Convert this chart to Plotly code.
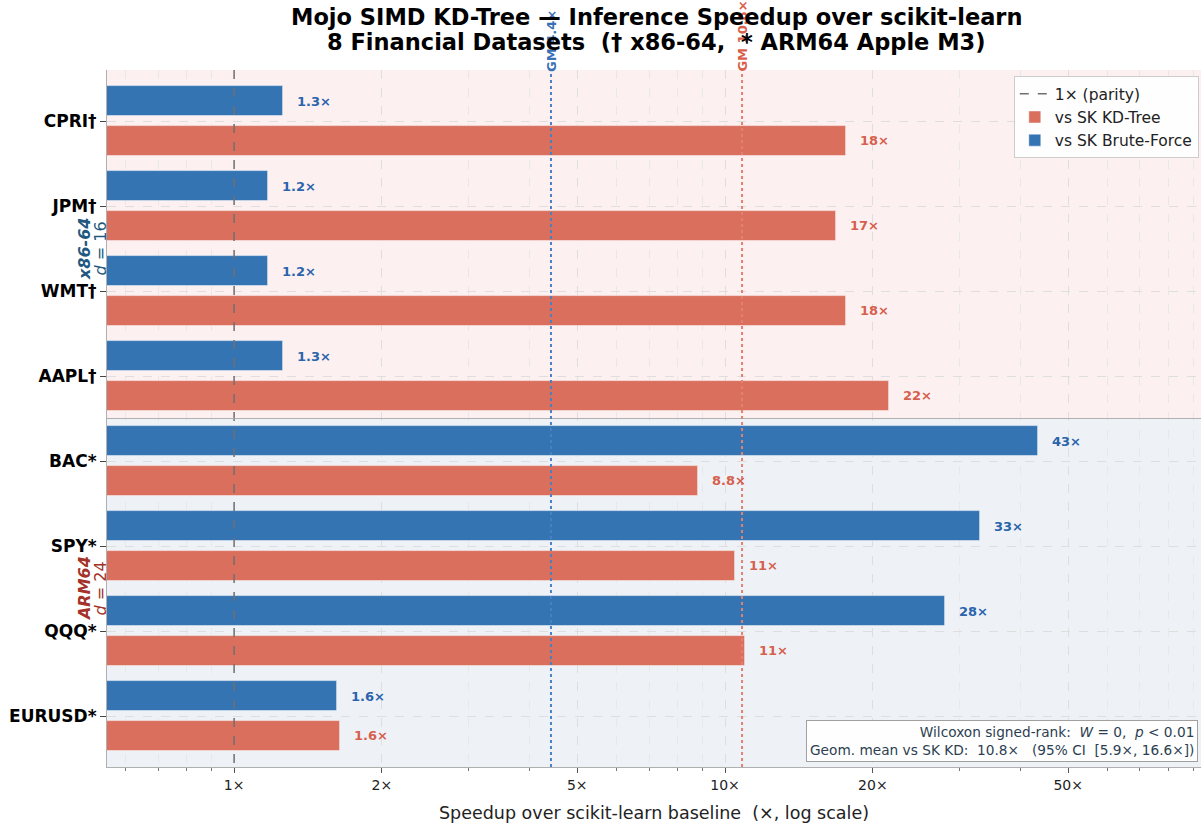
import plotly.graph_objects as go
import numpy as np

datasets = ["CPRI†", "JPM†", "WMT†", "AAPL†", "BAC*", "SPY*", "QQQ*", "EURUSD*"]
brute_speedup = [1.26, 1.17, 1.17, 1.26, 43.4, 33.0, 28.1, 1.62]
kd_speedup = [17.6, 16.8, 17.6, 21.6, 8.8, 10.5, 11.0, 1.64]
brute_labels = ["1.3×", "1.2×", "1.2×", "1.3×", "43×", "33×", "28×", "1.6×"]
kd_labels = ["18×", "17×", "18×", "22×", "8.8×", "11×", "11×", "1.6×"]
gm_brute = 4.42
gm_kd = 10.83
xtick_vals = [1, 2, 5, 10, 20, 50]
xtick_text = ["1×", "2×", "5×", "10×", "20×", "50×"]
minor_vals = [0.6, 0.7, 0.8, 0.9, 3, 4, 6, 7, 8, 9, 30, 40, 60, 70, 80, 90]
title_lines = ["Mojo SIMD KD-Tree — Inference Speedup over scikit-learn",
               "8 Financial Datasets  († x86-64,  * ARM64 Apple M3)"]

FONT = "DejaVu Sans"
BLUE_BAR = "#3574b3"
RED_BAR = "#da6f5e"
BLUE_TXT = "#2a64ac"
RED_TXT = "#d6604d"

idx = np.arange(len(datasets))
off = 0.235
bw = 0.35

fig = go.Figure()

# parity line (legend first)
fig.add_trace(go.Scatter(x=[1, 1], y=[-0.6, 7.6], mode="lines",
                         line=dict(color="#707070", dash="dash", width=1.5),
                         name="1× (parity)", hoverinfo="skip"))
fig.add_trace(go.Bar(x=kd_speedup, y=idx + off, orientation="h", width=bw,
                     marker=dict(color=RED_BAR, line=dict(color="rgba(255,255,255,0.6)", width=0.8)),
                     name="vs SK KD-Tree"))
fig.add_trace(go.Bar(x=brute_speedup, y=idx - off, orientation="h", width=bw,
                     marker=dict(color=BLUE_BAR, line=dict(color="rgba(255,255,255,0.6)", width=0.8)),
                     name="vs SK Brute-Force"))

annotations = []
for i in range(len(datasets)):
    annotations.append(dict(x=np.log10(brute_speedup[i]), y=i - off, xref="x", yref="y",
                            text="<b>%s</b>" % brute_labels[i], showarrow=False,
                            xanchor="left", xshift=12,
                            font=dict(family=FONT, size=13, color=BLUE_TXT)))
    annotations.append(dict(x=np.log10(kd_speedup[i]), y=i + off, xref="x", yref="y",
                            text="<b>%s</b>" % kd_labels[i], showarrow=False,
                            xanchor="left", xshift=12,
                            font=dict(family=FONT, size=13, color=RED_TXT)))

# GM labels
annotations.append(dict(x=np.log10(gm_brute), y=1, xref="x", yref="paper",
                        text="<b>GM 4.4×</b>", textangle=-90, showarrow=False,
                        xanchor="center", yanchor="bottom", yshift=-4,
                        font=dict(family=FONT, size=13, color="#3a70b5")))
annotations.append(dict(x=np.log10(gm_kd), y=1, xref="x", yref="paper",
                        text="<b>GM 10.8×</b>", textangle=-90, showarrow=False,
                        xanchor="center", yanchor="bottom", yshift=-4,
                        font=dict(family=FONT, size=13, color="#d9604b")))

# group labels
annotations.append(dict(x=-0.0205, y=1.5, xref="paper", yref="y",
                        text="<b><i>x86-64</i></b>", textangle=-90, showarrow=False,
                        xanchor="center", yanchor="middle",
                        font=dict(family=FONT, size=16, color="#22587f")))
annotations.append(dict(x=-0.0055, y=1.5, xref="paper", yref="y",
                        text="<i>d</i> = 16", textangle=-90, showarrow=False,
                        xanchor="center", yanchor="middle",
                        font=dict(family=FONT, size=16, color="#22587f")))
annotations.append(dict(x=-0.0205, y=5.5, xref="paper", yref="y",
                        text="<b><i>ARM64</i></b>", textangle=-90, showarrow=False,
                        xanchor="center", yanchor="middle",
                        font=dict(family=FONT, size=16, color="#a33228")))
annotations.append(dict(x=-0.0055, y=5.5, xref="paper", yref="y",
                        text="<i>d</i> = 24", textangle=-90, showarrow=False,
                        xanchor="center", yanchor="middle",
                        font=dict(family=FONT, size=16, color="#a33228")))

# stats box
annotations.append(dict(x=0.997, y=0.007, xref="paper", yref="paper",
                        xanchor="right", yanchor="bottom", align="right",
                        text="Wilcoxon signed-rank:  <i>W</i> = 0,  <i>p</i> < 0.01<br>"
                             "Geom. mean vs SK KD:  10.8×   (95% CI  [5.9×, 16.6×])",
                        showarrow=False, bgcolor="rgba(255,255,255,0.92)",
                        bordercolor="#a0a0a0", borderwidth=1, borderpad=3,
                        font=dict(family=FONT, size=13.7, color="#2c3e50")))

# title (two lines, drawn last so it sits over the GM labels)
for line, ypos in zip(title_lines, [1.0755, 1.040]):
    annotations.append(dict(x=0.502, y=ypos, xref="paper", yref="paper",
                            xanchor="center", yanchor="middle", showarrow=False,
                            text="<b>%s</b>" % line,
                            font=dict(family=FONT, size=22.5, color="black")))

shapes = [
    dict(type="rect", xref="paper", yref="y", x0=0, x1=1, y0=-0.6, y1=3.5,
         fillcolor="#fcf0f0", line=dict(width=0), layer="below"),
    dict(type="rect", xref="paper", yref="y", x0=0, x1=1, y0=3.5, y1=7.6,
         fillcolor="#eef2f7", line=dict(width=0), layer="below"),
    dict(type="line", xref="paper", yref="y", x0=0, x1=1, y0=3.5, y1=3.5,
         line=dict(color="#b0b0b0", width=1.2), layer="above"),
    dict(type="line", xref="x", yref="paper", x0=gm_brute, x1=gm_brute, y0=0, y1=1,
         line=dict(color="#4a80c4", width=2, dash="dot"), layer="above"),
    dict(type="line", xref="x", yref="paper", x0=gm_kd, x1=gm_kd, y0=0, y1=1,
         line=dict(color="#e08272", width=2, dash="dot"), layer="above"),
]

fig.update_layout(
    width=1202, height=828,
    margin=dict(l=107, r=1, t=70, b=61),
    paper_bgcolor="white", plot_bgcolor="white",
    font=dict(family=FONT, color="black"),
    barmode="overlay",
    showlegend=True,
    legend=dict(x=0.998, y=0.991, xanchor="right", yanchor="top",
                bgcolor="rgba(255,255,255,0.9)", bordercolor="#cccccc", borderwidth=1,
                font=dict(family=FONT, size=15.5, color="#222"),
                traceorder="normal", tracegroupgap=2),
    annotations=annotations,
    shapes=shapes,
    bargap=0,
)

fig.update_xaxes(type="log", range=[np.log10(0.551), np.log10(93.2)],
                 tickvals=xtick_vals, ticktext=xtick_text,
                 tickfont=dict(family=FONT, size=14, color="#222"),
                 ticks="outside", ticklen=5, tickcolor="#555",
                 showgrid=True, gridcolor="#dedede", griddash="dash", gridwidth=1,
                 minor=dict(tickmode="array", tickvals=minor_vals, ticks="outside",
                            ticklen=3, tickcolor="#777", showgrid=True,
                            gridcolor="#e8e8e8", griddash="dash"),
                 showline=True, linecolor="#b0b0b0", linewidth=1, zeroline=False,
                 title=dict(text="Speedup over scikit-learn baseline  (×, log scale)",
                            font=dict(family=FONT, size=17.5, color="#222"), standoff=14))

fig.update_yaxes(range=[7.6, -0.6], tickvals=list(idx),
                 ticktext=["<b>%s</b>" % d for d in datasets],
                 tickfont=dict(family=FONT, size=17, color="black"),
                 ticks="outside", ticklen=6, tickcolor="#444",
                 showgrid=True, gridcolor="#dedede", griddash="dash", gridwidth=1,
                 showline=True, linecolor="#b0b0b0", linewidth=1, zeroline=False)

fig.write_html("out.html", config={"displayModeBar": False},
               post_script="document.body.style.margin='0';document.body.style.overflow='hidden';")
